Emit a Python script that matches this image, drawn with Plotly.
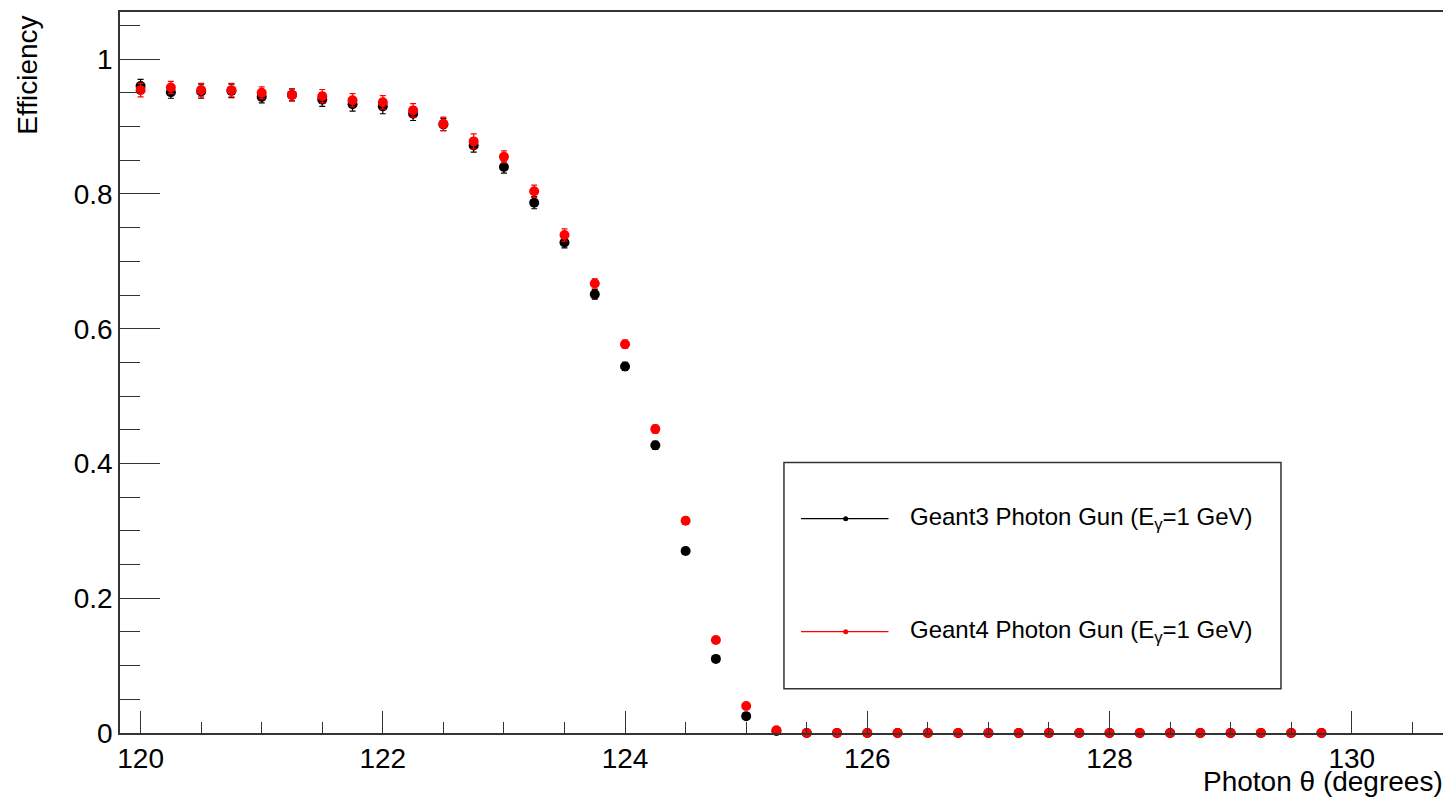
import plotly.graph_objects as go

# ---- data ----
theta = [120.0 + 0.25 * i for i in range(40)]

geant3_eff = [0.960, 0.951, 0.952, 0.953, 0.944, 0.947, 0.940, 0.933, 0.930, 0.919,
              0.903, 0.872, 0.840, 0.787, 0.728, 0.651, 0.544, 0.427, 0.270, 0.110,
              0.025, 0.003, 0.0, 0.0, 0.0, 0.0, 0.0, 0.0, 0.0, 0.0,
              0.0, 0.0, 0.0, 0.0, 0.0, 0.0, 0.0, 0.0, 0.0, 0.0]
geant3_err = [0.010, 0.009, 0.010, 0.010, 0.009, 0.009, 0.010, 0.010, 0.011, 0.010,
              0.009, 0.010, 0.009, 0.009, 0.008, 0.007, 0.006, 0.006, 0.005, 0.004,
              0.002, 0.001, 0.0, 0.0, 0.0, 0.0, 0.0, 0.0, 0.0, 0.0,
              0.0, 0.0, 0.0, 0.0, 0.0, 0.0, 0.0, 0.0, 0.0, 0.0]

geant4_eff = [0.954, 0.958, 0.954, 0.954, 0.950, 0.947, 0.945, 0.939, 0.936, 0.924,
              0.904, 0.878, 0.855, 0.804, 0.739, 0.667, 0.577, 0.451, 0.315, 0.138,
              0.040, 0.004, 0.0, 0.0, 0.0, 0.0, 0.0, 0.0, 0.0, 0.0,
              0.0, 0.0, 0.0, 0.0, 0.0, 0.0, 0.0, 0.0, 0.0, 0.0]
geant4_err = [0.010, 0.009, 0.010, 0.010, 0.009, 0.009, 0.010, 0.010, 0.010, 0.010,
              0.010, 0.011, 0.009, 0.009, 0.009, 0.007, 0.006, 0.006, 0.005, 0.004,
              0.003, 0.001, 0.0, 0.0, 0.0, 0.0, 0.0, 0.0, 0.0, 0.0,
              0.0, 0.0, 0.0, 0.0, 0.0, 0.0, 0.0, 0.0, 0.0, 0.0]

series_names = ["Geant3 Photon Gun (E<sub>γ</sub>=1 GeV)",
                "Geant4 Photon Gun (E<sub>γ</sub>=1 GeV)"]
series_colors = ["#000000", "#ff0000"]

FONT = "Liberation Sans, Arial, Helvetica, sans-serif"

fig = go.Figure()
for eff, err, col, name in [(geant3_eff, geant3_err, series_colors[0], series_names[0]),
                            (geant4_eff, geant4_err, series_colors[1], series_names[1])]:
    fig.add_trace(go.Scatter(
        x=theta, y=eff, mode="markers", name=name,
        marker=dict(color=col, size=10, symbol="circle", line=dict(width=0)),
        error_y=dict(type="data", array=err, visible=True, color=col,
                     thickness=1.2, width=3),
        cliponaxis=False, showlegend=False,
    ))

axis_line = "#333333"
fig.update_layout(
    width=1443, height=793,
    margin=dict(l=112, r=6, t=2, b=68),
    paper_bgcolor="white", plot_bgcolor="white",
    font=dict(family=FONT, color="black"),
    xaxis=dict(range=[119.83, 130.77], tick0=120, dtick=2,
               ticks="inside", ticklen=22, tickwidth=1.2, tickcolor=axis_line,
               minor=dict(dtick=0.5, tick0=120, ticks="inside", ticklen=11,
                          tickwidth=1.2, tickcolor=axis_line, showgrid=False),
               showgrid=False, zeroline=False,
               showline=True, linecolor=axis_line, linewidth=1.5, mirror=True,
               tickfont=dict(family=FONT, size=28, color="black")),
    yaxis=dict(range=[0, 1.07], tick0=0, dtick=0.2,
               ticks="inside", ticklen=40, tickwidth=1.2, tickcolor=axis_line,
               minor=dict(dtick=0.05, tick0=0, ticks="inside", ticklen=20,
                          tickwidth=1.2, tickcolor=axis_line, showgrid=False),
               showgrid=False, zeroline=False,
               showline=True, linecolor=axis_line, linewidth=1.5, mirror=True,
               tickfont=dict(family=FONT, size=28, color="black")),
)

# axis titles (ROOT-style alignment)
fig.add_annotation(text="Efficiency", textangle=-90, xref="paper", yref="paper",
                   x=-0.0694, y=0.997, xanchor="center", yanchor="top",
                   showarrow=False, font=dict(family=FONT, size=28, color="black"))
fig.add_annotation(text="Photon θ (degrees)", xref="paper", yref="paper",
                   x=1.0, y=-0.067, xanchor="right", yanchor="middle",
                   showarrow=False, font=dict(family=FONT, size=28, color="black"))

# legend box
fig.add_shape(type="rect", xref="paper", yref="paper",
              x0=0.5011, x1=0.8762, y0=0.0612, y1=0.3751,
              line=dict(color=axis_line, width=1.5), fillcolor="white", layer="above")
legend_y = [0.2973, 0.1405]
for ly, col, name in zip(legend_y, series_colors, series_names):
    fig.add_shape(type="line", xref="paper", yref="paper",
                  x0=0.514, x1=0.580, y0=ly, y1=ly,
                  line=dict(color=col, width=1.2), layer="above")
    fig.add_shape(type="circle", xref="paper", yref="paper",
                  xsizemode="pixel", ysizemode="pixel",
                  xanchor=0.5477, yanchor=ly, x0=-2.5, x1=2.5, y0=-2.5, y1=2.5,
                  fillcolor=col, line=dict(color=col, width=0), layer="above")
    fig.add_annotation(text=name, xref="paper", yref="paper",
                       x=0.5945, y=ly, xanchor="left", yanchor="middle",
                       showarrow=False, font=dict(family=FONT, size=24, color="black"))

fig.write_html("out.html")
